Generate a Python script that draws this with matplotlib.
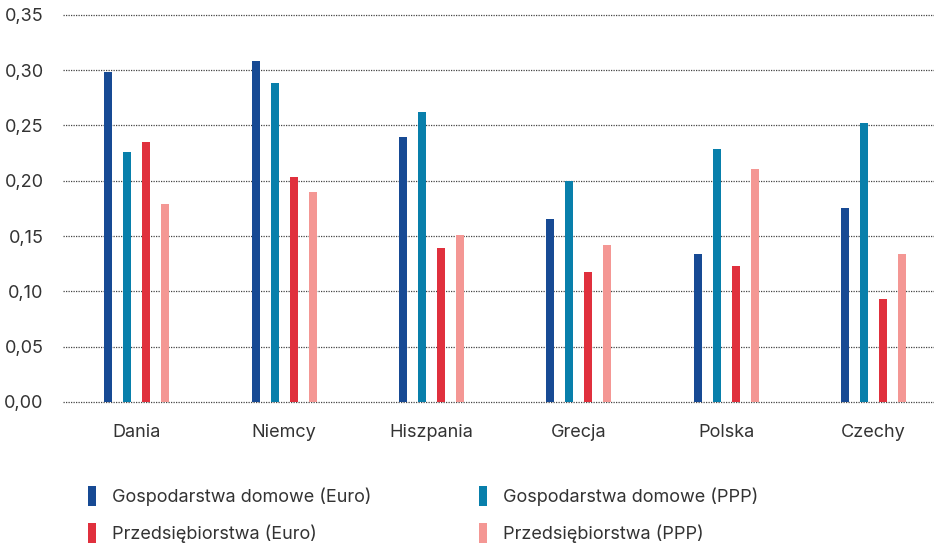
import matplotlib.pyplot as plt
import numpy as np
from matplotlib.patches import Patch
from matplotlib.ticker import FuncFormatter

countries = ['Dania', 'Niemcy', 'Hiszpania', 'Grecja', 'Polska', 'Czechy']
series_names = ['Gospodarstwa domowe (Euro)', 'Gospodarstwa domowe (PPP)',
                'Przedsiębiorstwa (Euro)', 'Przedsiębiorstwa (PPP)']
households_euro = [0.298, 0.308, 0.240, 0.165, 0.134, 0.175]
households_ppp = [0.226, 0.288, 0.262, 0.200, 0.229, 0.252]
companies_euro = [0.235, 0.203, 0.139, 0.117, 0.123, 0.093]
companies_ppp = [0.179, 0.190, 0.151, 0.142, 0.211, 0.134]
y_ticks = [0.00, 0.05, 0.10, 0.15, 0.20, 0.25, 0.30, 0.35]

colors = ['#174a94', '#087fab', '#e0303d', '#f49794']
plt.rcParams['font.family'] = ['Inter', 'DejaVu Sans']

fig = plt.figure(figsize=(9.34, 5.43), dpi=100)
ax = fig.add_axes([0.0675, 0.26, 0.9325, 0.7125])

x = np.arange(len(countries))
step = 0.129
width = 0.054
all_series = [households_euro, households_ppp, companies_euro, companies_ppp]
for i, (vals, col) in enumerate(zip(all_series, colors)):
    ax.bar(x + (i - 1.5) * step, vals, width=width, color=col, zorder=3)

for t in y_ticks:
    ax.axhline(t, color='#444444', lw=0.9, ls=(0, (1, 1)), zorder=1, clip_on=False)

ax.set_xlim(-0.5, 5.41)
ax.set_ylim(0, 0.35)
ax.set_yticks(y_ticks)
ax.yaxis.set_major_formatter(FuncFormatter(lambda v, p: f'{v:.2f}'.replace('.', ',')))
ax.set_xticks(x)
ax.set_xticklabels(countries)
ax.tick_params(axis='both', length=0, labelsize=13, colors='#333333')
ax.tick_params(axis='y', pad=14)
ax.tick_params(axis='x', pad=16)
for s in ax.spines.values():
    s.set_visible(False)

# legend fills column-wise, so order entries to read row by row
order = [0, 2, 1, 3]
handles = [Patch(facecolor=colors[i]) for i in order]
labels = [series_names[i] for i in order]
fig.legend(handles, labels, loc='upper left', bbox_to_anchor=(0.085, 0.122),
           ncol=2, frameon=False, fontsize=13, handlelength=0.42, handleheight=1.35,
           handletextpad=0.9, columnspacing=5.95, labelspacing=0.92, labelcolor='#333333',
           borderpad=0)

fig.savefig('out.png', dpi=100)
